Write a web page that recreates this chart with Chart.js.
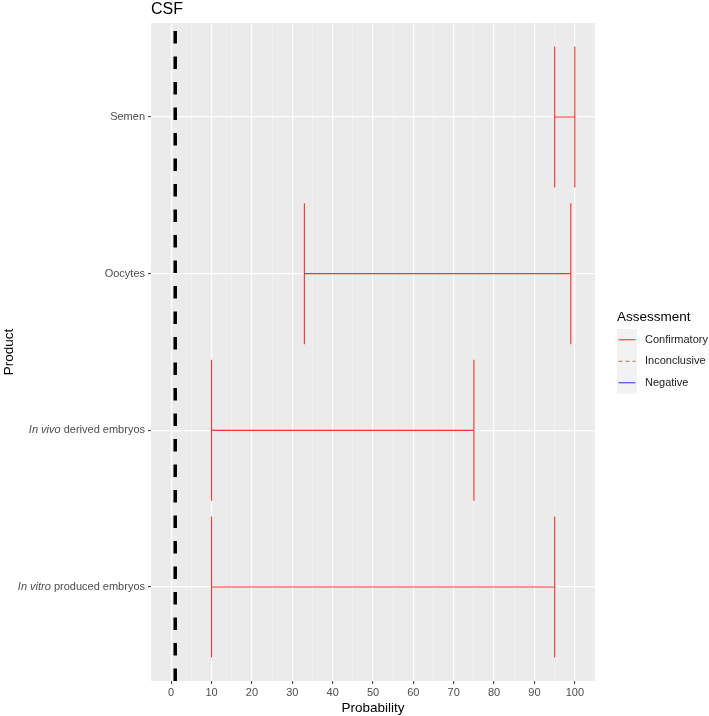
<!DOCTYPE html>
<html>
<head>
<meta charset="utf-8">
<script src="https://cdn.jsdelivr.net/npm/chart.js@4"></script>
<style>
  html, body { margin: 0; padding: 0; background: #ffffff; }
  #wrap { width: 709px; height: 716px; position: relative; }
</style>
</head>
<body>
<div id="wrap"><canvas id="c" width="709" height="716"></canvas></div>
<script>
// ---- data (top to bottom as shown) ----
const productItalic = ['', '', 'In vivo', 'In vitro'];
const productPlain  = ['Semen', 'Oocytes', ' derived embryos', ' produced embryos'];
const probLow  = [95, 33, 10, 10];
const probHigh = [100, 99, 75, 95];
const vlineX = 1;
const xTickValues = [0, 10, 20, 30, 40, 50, 60, 70, 80, 90, 100];
const legendLabels = ['Confirmatory', 'Inconclusive', 'Negative'];
const legendColors = ['#ff3030', '#a47a45', '#3a3aff'];
const titleText = 'CSF';
const xTitle = 'Probability';
const yTitle = 'Product';
const legendTitle = 'Assessment';

const FONT = '"Liberation Sans", Arial, Helvetica, sans-serif';
const n = productPlain.length;
const capHalf = 0.45;

// build error bar path (with gaps) from the arrays
const errPts = [];
for (let i = 0; i < n; i++) {
  const yv = n - i;
  const lo = probLow[i], hi = probHigh[i];
  errPts.push({x: lo, y: yv - capHalf}, {x: lo, y: yv + capHalf}, {x: lo, y: null});
  errPts.push({x: lo, y: yv}, {x: hi, y: yv}, {x: hi, y: null});
  errPts.push({x: hi, y: yv - capHalf}, {x: hi, y: yv + capHalf}, {x: hi, y: null});
}

const yMin = 0.4, yMax = n + 0.6;

const decor = {
  id: 'decor',
  beforeDraw(chart) {
    const {ctx, chartArea: a} = chart;
    ctx.save();
    ctx.fillStyle = '#EBEBEB';
    ctx.fillRect(a.left, a.top, a.right - a.left, a.bottom - a.top);
    ctx.restore();
  },
  afterDraw(chart) {
    const {ctx, chartArea: a} = chart;
    const ys = chart.scales.y;
    ctx.save();
    // title
    ctx.fillStyle = '#000';
    ctx.font = '16px ' + FONT;
    ctx.textAlign = 'left';
    ctx.textBaseline = 'alphabetic';
    ctx.fillText(titleText, a.left, 13.5);
    // y tick labels
    ctx.fillStyle = '#4D4D4D';
    ctx.textBaseline = 'middle';
    const rx = a.left - 6;
    for (let i = 0; i < n; i++) {
      const py = ys.getPixelForValue(n - i);
      ctx.font = '11px ' + FONT;
      ctx.textAlign = 'right';
      ctx.fillText(productPlain[i], rx, py);
      const w = ctx.measureText(productPlain[i]).width;
      if (productItalic[i]) {
        ctx.font = 'italic 11px ' + FONT;
        ctx.fillText(productItalic[i], rx - w, py);
      }
    }
    // axis titles
    ctx.fillStyle = '#000';
    ctx.font = '13.5px ' + FONT;
    ctx.textAlign = 'center';
    ctx.textBaseline = 'alphabetic';
    ctx.fillText(xTitle, (a.left + a.right) / 2, 712);
    ctx.save();
    ctx.translate(13, (a.top + a.bottom) / 2);
    ctx.rotate(-Math.PI / 2);
    ctx.fillText(yTitle, 0, 0);
    ctx.restore();
    // legend
    const lx = 617;
    ctx.textAlign = 'left';
    ctx.font = '13.5px ' + FONT;
    ctx.fillText(legendTitle, lx, 321);
    const keyTop = 329, keyH = 21.5, keyW = 20;
    ctx.fillStyle = '#F2F2F2';
    ctx.fillRect(lx, keyTop, keyW, keyH * legendLabels.length);
    for (let i = 0; i < legendLabels.length; i++) {
      const cy = keyTop + keyH * i + keyH / 2;
      ctx.strokeStyle = legendColors[i];
      ctx.lineWidth = 1.1;
      ctx.setLineDash(i === 1 ? [4, 3] : []);
      ctx.beginPath();
      ctx.moveTo(lx + 1.5, cy);
      ctx.lineTo(lx + keyW - 1.5, cy);
      ctx.stroke();
      ctx.setLineDash([]);
      ctx.fillStyle = '#1A1A1A';
      ctx.font = '11px ' + FONT;
      ctx.textBaseline = 'middle';
      ctx.fillText(legendLabels[i], lx + 28, cy);
    }
    ctx.restore();
  }
};

new Chart(document.getElementById('c'), {
  type: 'scatter',
  data: {
    datasets: [
      {
        label: 'vline',
        data: [{x: vlineX, y: yMin}, {x: vlineX, y: yMax}],
        showLine: true,
        borderColor: '#000',
        borderWidth: 3.5,
        borderDash: [12.5, 13],
        borderCapStyle: 'butt',
        pointRadius: 0,
        spanGaps: false
      },
      {
        label: legendLabels[0],
        data: errPts,
        showLine: true,
        borderColor: legendColors[0],
        borderWidth: 1.1,
        pointRadius: 0,
        spanGaps: false
      }
    ]
  },
  options: {
    responsive: false,
    animation: false,
    events: [],
    layout: { padding: { top: 23, right: 114, left: 0, bottom: 0 } },
    plugins: { legend: { display: false }, tooltip: { enabled: false } },
    scales: {
      x: {
        type: 'linear',
        min: -5, max: 105,
        afterFit(s) { s.height = 35; },
        afterBuildTicks(s) {
          const t = [];
          for (let v = -5; v <= 105; v += 5) t.push({value: v});
          s.ticks = t;
        },
        border: { display: false },
        grid: {
          color: c => {
            const v = c.tick ? c.tick.value : 0;
            if (v <= -5 || v >= 105) return 'rgba(0,0,0,0)';
            return v % 10 === 0 ? '#FFFFFF' : '#F7F7F7';
          },
          lineWidth: c => (c.tick && c.tick.value % 10 === 0) ? 1.2 : 0.7,
          drawTicks: true,
          tickLength: 3,
          tickColor: c => (c.tick && c.tick.value % 10 === 0 && c.tick.value >= 0 && c.tick.value <= 100) ? '#333333' : 'rgba(0,0,0,0)',
          tickWidth: 1
        },
        ticks: {
          autoSkip: false,
          maxRotation: 0,
          padding: 2,
          color: '#4D4D4D',
          font: { family: FONT, size: 11 },
          callback: v => xTickValues.includes(v) ? String(v) : ''
        }
      },
      y: {
        type: 'linear',
        min: yMin, max: yMax,
        afterFit(s) { s.width = 151; },
        afterBuildTicks(s) {
          const t = [];
          for (let i = 1; i <= n; i++) t.push({value: i});
          s.ticks = t;
        },
        border: { display: false },
        grid: {
          color: '#FFFFFF',
          lineWidth: 1.2,
          drawTicks: true,
          tickLength: 3,
          tickColor: '#333333',
          tickWidth: 1
        },
        ticks: { display: false }
      }
    }
  },
  plugins: [decor]
});
</script>
</body>
</html>
